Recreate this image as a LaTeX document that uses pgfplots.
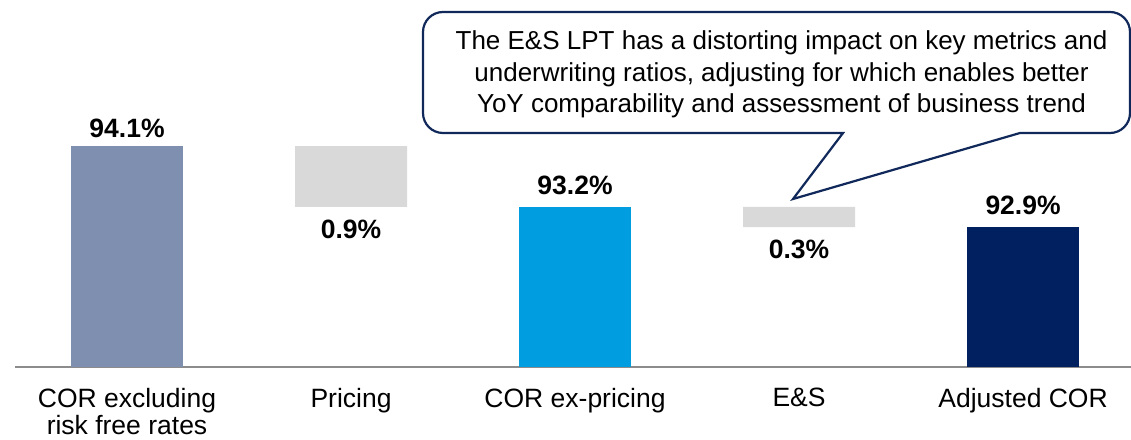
\documentclass[border=0pt]{standalone}
\usepackage{pgfplots}
\pgfplotsset{compat=1.18}
\usepackage{fontspec}
\setmainfont{Liberation Sans}
\definecolor{cone}{HTML}{7F8FAF}
\definecolor{cthree}{HTML}{009DE0}
\definecolor{cfive}{HTML}{002060}
\definecolor{cgrey}{HTML}{D9D9D9}
\definecolor{cborder}{HTML}{10285A}
\definecolor{caxis}{HTML}{8C8C8C}
\begin{document}
\begin{tikzpicture}
\useasboundingbox (0pt,0pt) rectangle (1131pt,439pt);
\begin{axis}[
  at={(15pt,72pt)}, anchor=south west,
  scale only axis, width=1116pt, height=337.5pt,
  xmin=-0.5, xmax=4.482, ymin=90.83, ymax=95.83,
  ybar stacked, bar width=112pt,
  hide y axis,
  axis x line=bottom,
  x axis line style={-, draw=caxis, line width=2pt},
  xtick={0,1,2,3,4},
  major tick length=0pt,
  xticklabels={{COR excluding\\risk free rates},Pricing,COR ex-pricing,E\&S,Adjusted COR},
  xticklabel style={align=center, anchor=north, inner sep=0pt, yshift=-21pt,
    font=\fontsize{26.5}{27.5}\selectfont},
]
\addplot[fill=cone, draw=none] coordinates {(0,94.1) (1,0) (2,0) (3,0) (4,0)};
\addplot[fill=none, draw=none] coordinates {(0,0) (1,93.2) (2,0) (3,92.9) (4,0)};
\addplot[fill=cgrey, draw=none] coordinates {(0,0) (1,0.9) (2,0) (3,0.3) (4,0)};
\addplot[fill=cthree, draw=none] coordinates {(0,0) (1,0) (2,93.2) (3,0) (4,0)};
\addplot[fill=cfive, draw=none] coordinates {(0,0) (1,0) (2,0) (3,0) (4,92.9)};
\tikzset{vl/.style={anchor=base, inner sep=0pt, font=\bfseries\fontsize{26.5}{30}\selectfont}}
\node[vl, yshift=9pt] at (axis cs:0,94.1) {94.1\%};
\node[vl, yshift=-32pt] at (axis cs:1,93.2) {0.9\%};
\node[vl, yshift=12pt] at (axis cs:2,93.2) {93.2\%};
\node[vl, yshift=-31pt] at (axis cs:3,92.9) {0.3\%};
\node[vl, yshift=13pt] at (axis cs:4,92.9) {92.9\%};
\end{axis}
\draw[cborder, line width=2.2pt, fill=white, line join=miter]
  (793pt,240pt) -- (843pt,306pt) [rounded corners=20pt] -- (423pt,306pt) -- (423pt,427pt) -- (1130pt,427pt) -- (1130pt,306pt) [sharp corners] -- (1020pt,306pt) -- cycle;
\begin{scope}[every node/.style={anchor=base, inner sep=0pt, font=\fontsize{26}{31}\selectfont}]
\node at (781.5pt,389pt) {The E\&S LPT has a distorting impact on key metrics and};
\node at (781.5pt,357pt) {underwriting ratios, adjusting for which enables better};
\node at (781.5pt,326pt) {YoY comparability and assessment of business trend};
\end{scope}
\end{tikzpicture}
\end{document}
